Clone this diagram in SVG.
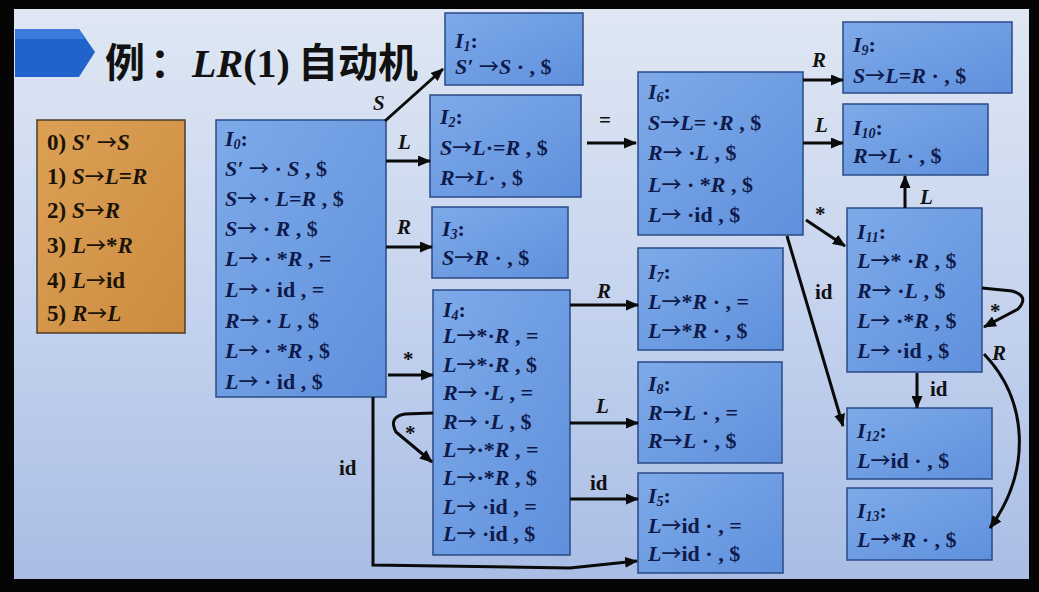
<svg xmlns="http://www.w3.org/2000/svg" width="1039" height="592" viewBox="0 0 1039 592">
<defs>
<linearGradient id="bgg" x1="0" y1="0" x2="0" y2="1">
<stop offset="0" stop-color="#dfe7f3"/>
<stop offset="0.5" stop-color="#c6d4ee"/>
<stop offset="1" stop-color="#a9bde5"/>
</linearGradient>
<linearGradient id="gb" x1="0" y1="0" x2="1" y2="1">
<stop offset="0" stop-color="#7eaae9"/>
<stop offset="1" stop-color="#5f90dc"/>
</linearGradient>
<linearGradient id="go" x1="0" y1="0" x2="1" y2="1">
<stop offset="0" stop-color="#dca055"/>
<stop offset="1" stop-color="#cc8c40"/>
</linearGradient>
<marker id="ah" markerUnits="userSpaceOnUse" markerWidth="13" markerHeight="11" refX="12" refY="5.5" orient="auto">
<path d="M0,0 L13,5.5 L0,11 z" fill="#0a0a0a"/>
</marker>
<style>
.node rect{fill:url(#gb);stroke:#2b4a86;stroke-width:1.5}
.t{font-family:"Liberation Serif",serif;font-weight:bold;font-size:22px;fill:#0e1a4a}
.r{font-size:23px;fill:#1a1408}
.i{font-style:italic}
.a{font-family:"Noto Sans CJK SC",sans-serif;font-weight:500;font-size:20px}
.sb{font-size:14px;font-style:italic}
.edge{fill:none;stroke:#0a0a0a;stroke-width:3;marker-end:url(#ah)}
.lbl{font-family:"Liberation Serif",serif;font-weight:bold;font-size:21px;fill:#111}
</style>
</defs>
<rect x="0" y="0" width="1039" height="592" fill="#050505"/>
<rect x="14" y="9" width="1015" height="570" fill="url(#bgg)"/>
<g id="title">
<polygon points="15,29 79,29 95,52 79,77 15,77" fill="#2163cc"/>
<polygon points="15,29 79,29 86,39 15,39" fill="#3b7ad8"/>
<text y="77" font-size="40" font-weight="bold" fill="#111"><tspan x="105" font-family="'Noto Sans CJK SC',sans-serif">例</tspan><tspan x="150" font-family="'Noto Sans CJK SC',sans-serif">：</tspan><tspan x="192" font-family="'Liberation Serif',serif" font-style="italic">LR</tspan><tspan font-family="'Liberation Serif',serif">(1)</tspan><tspan x="298" font-family="'Noto Sans CJK SC',sans-serif">自动机</tspan></text>
</g>
<g id="rules">
<rect x="37" y="120" width="148" height="213" fill="url(#go)" stroke="#4a3c28" stroke-width="1.5"/>
<text class="t r" x="47" y="150">0) <tspan class="i">S′</tspan> <tspan class="a">→</tspan><tspan class="i">S</tspan></text>
<text class="t r" x="47" y="184">1) <tspan class="i">S</tspan><tspan class="a">→</tspan><tspan class="i">L</tspan>=<tspan class="i">R</tspan></text>
<text class="t r" x="47" y="218">2) <tspan class="i">S</tspan><tspan class="a">→</tspan><tspan class="i">R</tspan></text>
<text class="t r" x="47" y="253">3) <tspan class="i">L</tspan><tspan class="a">→</tspan>*<tspan class="i">R</tspan></text>
<text class="t r" x="47" y="288">4) <tspan class="i">L</tspan><tspan class="a">→</tspan>id</text>
<text class="t r" x="47" y="321">5) <tspan class="i">R</tspan><tspan class="a">→</tspan><tspan class="i">L</tspan></text>
</g>
<g id="I0" class="node">
<rect x="216" y="120" width="170" height="277"/>
<text class="t" x="225" y="146"><tspan class="i">I</tspan><tspan class="sb" dy="3">0</tspan><tspan dy="-3">:</tspan></text>
<text class="t" x="225" y="176"><tspan class="i">S′</tspan> <tspan class="a">→</tspan> · <tspan class="i">S</tspan> , $</text>
<text class="t" x="225" y="206"><tspan class="i">S</tspan><tspan class="a">→</tspan> · <tspan class="i">L</tspan>=<tspan class="i">R</tspan> , $</text>
<text class="t" x="225" y="236"><tspan class="i">S</tspan><tspan class="a">→</tspan> · <tspan class="i">R</tspan> , $</text>
<text class="t" x="225" y="266"><tspan class="i">L</tspan><tspan class="a">→</tspan> · *<tspan class="i">R</tspan> , =</text>
<text class="t" x="225" y="297"><tspan class="i">L</tspan><tspan class="a">→</tspan> · id , =</text>
<text class="t" x="225" y="328"><tspan class="i">R</tspan><tspan class="a">→</tspan> · <tspan class="i">L</tspan> , $</text>
<text class="t" x="225" y="358"><tspan class="i">L</tspan><tspan class="a">→</tspan> · *<tspan class="i">R</tspan> , $</text>
<text class="t" x="225" y="389"><tspan class="i">L</tspan><tspan class="a">→</tspan> · id , $</text>
</g>
<g id="I1" class="node">
<rect x="445" y="13" width="138" height="72"/>
<text class="t" x="455" y="48"><tspan class="i">I</tspan><tspan class="sb" dy="3">1</tspan><tspan dy="-3">:</tspan></text>
<text class="t" x="455" y="74"><tspan class="i">S′</tspan> <tspan class="a">→</tspan><tspan class="i">S</tspan> · , $</text>
</g>
<g id="I2" class="node">
<rect x="430" y="95" width="151" height="102"/>
<text class="t" x="440" y="124"><tspan class="i">I</tspan><tspan class="sb" dy="3">2</tspan><tspan dy="-3">:</tspan></text>
<text class="t" x="440" y="155"><tspan class="i">S</tspan><tspan class="a">→</tspan><tspan class="i">L</tspan>·=<tspan class="i">R</tspan> , $</text>
<text class="t" x="440" y="185"><tspan class="i">R</tspan><tspan class="a">→</tspan><tspan class="i">L</tspan>· , $</text>
</g>
<g id="I3" class="node">
<rect x="432" y="207" width="136" height="71"/>
<text class="t" x="442" y="236"><tspan class="i">I</tspan><tspan class="sb" dy="3">3</tspan><tspan dy="-3">:</tspan></text>
<text class="t" x="442" y="265"><tspan class="i">S</tspan><tspan class="a">→</tspan><tspan class="i">R</tspan> · , $</text>
</g>
<g id="I4" class="node">
<rect x="433" y="290" width="137" height="265"/>
<text class="t" x="443" y="317"><tspan class="i">I</tspan><tspan class="sb" dy="3">4</tspan><tspan dy="-3">:</tspan></text>
<text class="t" x="443" y="343"><tspan class="i">L</tspan><tspan class="a">→</tspan>*·<tspan class="i">R</tspan> , =</text>
<text class="t" x="443" y="372"><tspan class="i">L</tspan><tspan class="a">→</tspan>*·<tspan class="i">R</tspan> , $</text>
<text class="t" x="443" y="400"><tspan class="i">R</tspan><tspan class="a">→</tspan> ·<tspan class="i">L</tspan> , =</text>
<text class="t" x="443" y="429"><tspan class="i">R</tspan><tspan class="a">→</tspan> ·<tspan class="i">L</tspan> , $</text>
<text class="t" x="443" y="457"><tspan class="i">L</tspan><tspan class="a">→</tspan>·*<tspan class="i">R</tspan> , =</text>
<text class="t" x="443" y="485"><tspan class="i">L</tspan><tspan class="a">→</tspan>·*<tspan class="i">R</tspan> , $</text>
<text class="t" x="443" y="514"><tspan class="i">L</tspan><tspan class="a">→</tspan> ·id , =</text>
<text class="t" x="443" y="541"><tspan class="i">L</tspan><tspan class="a">→</tspan> ·id , $</text>
</g>
<g id="I6" class="node">
<rect x="638" y="72" width="165" height="163"/>
<text class="t" x="648" y="99"><tspan class="i">I</tspan><tspan class="sb" dy="3">6</tspan><tspan dy="-3">:</tspan></text>
<text class="t" x="648" y="130"><tspan class="i">S</tspan><tspan class="a">→</tspan><tspan class="i">L</tspan>= ·<tspan class="i">R</tspan> , $</text>
<text class="t" x="648" y="160"><tspan class="i">R</tspan><tspan class="a">→</tspan> ·<tspan class="i">L</tspan> , $</text>
<text class="t" x="648" y="192"><tspan class="i">L</tspan><tspan class="a">→</tspan> · *<tspan class="i">R</tspan> , $</text>
<text class="t" x="648" y="222"><tspan class="i">L</tspan><tspan class="a">→</tspan> ·id , $</text>
</g>
<g id="I7" class="node">
<rect x="638" y="248" width="145" height="102"/>
<text class="t" x="648" y="279"><tspan class="i">I</tspan><tspan class="sb" dy="3">7</tspan><tspan dy="-3">:</tspan></text>
<text class="t" x="648" y="309"><tspan class="i">L</tspan><tspan class="a">→</tspan>*<tspan class="i">R</tspan> · , =</text>
<text class="t" x="648" y="338"><tspan class="i">L</tspan><tspan class="a">→</tspan>*<tspan class="i">R</tspan> · , $</text>
</g>
<g id="I8" class="node">
<rect x="638" y="362" width="144" height="101"/>
<text class="t" x="648" y="391"><tspan class="i">I</tspan><tspan class="sb" dy="3">8</tspan><tspan dy="-3">:</tspan></text>
<text class="t" x="648" y="420"><tspan class="i">R</tspan><tspan class="a">→</tspan><tspan class="i">L</tspan> · , =</text>
<text class="t" x="648" y="448"><tspan class="i">R</tspan><tspan class="a">→</tspan><tspan class="i">L</tspan> · , $</text>
</g>
<g id="I5" class="node">
<rect x="638" y="473" width="145" height="100"/>
<text class="t" x="648" y="503"><tspan class="i">I</tspan><tspan class="sb" dy="3">5</tspan><tspan dy="-3">:</tspan></text>
<text class="t" x="648" y="533"><tspan class="i">L</tspan><tspan class="a">→</tspan>id · , =</text>
<text class="t" x="648" y="561"><tspan class="i">L</tspan><tspan class="a">→</tspan>id · , $</text>
</g>
<g id="I9" class="node">
<rect x="843" y="22" width="169" height="71"/>
<text class="t" x="853" y="52"><tspan class="i">I</tspan><tspan class="sb" dy="3">9</tspan><tspan dy="-3">:</tspan></text>
<text class="t" x="853" y="83"><tspan class="i">S</tspan><tspan class="a">→</tspan><tspan class="i">L</tspan>=<tspan class="i">R</tspan> · , $</text>
</g>
<g id="I10" class="node">
<rect x="843" y="104" width="145" height="71"/>
<text class="t" x="853" y="135"><tspan class="i">I</tspan><tspan class="sb" dy="3">10</tspan><tspan dy="-3">:</tspan></text>
<text class="t" x="853" y="163"><tspan class="i">R</tspan><tspan class="a">→</tspan><tspan class="i">L</tspan> · , $</text>
</g>
<g id="I11" class="node">
<rect x="847" y="208" width="135" height="164"/>
<text class="t" x="857" y="239"><tspan class="i">I</tspan><tspan class="sb" dy="3">11</tspan><tspan dy="-3">:</tspan></text>
<text class="t" x="857" y="268"><tspan class="i">L</tspan><tspan class="a">→</tspan>* ·<tspan class="i">R</tspan> , $</text>
<text class="t" x="857" y="298"><tspan class="i">R</tspan><tspan class="a">→</tspan> ·<tspan class="i">L</tspan> , $</text>
<text class="t" x="857" y="328"><tspan class="i">L</tspan><tspan class="a">→</tspan> ·*<tspan class="i">R</tspan> , $</text>
<text class="t" x="857" y="358"><tspan class="i">L</tspan><tspan class="a">→</tspan> ·id , $</text>
</g>
<g id="I12" class="node">
<rect x="847" y="408" width="145" height="71"/>
<text class="t" x="857" y="438"><tspan class="i">I</tspan><tspan class="sb" dy="3">12</tspan><tspan dy="-3">:</tspan></text>
<text class="t" x="857" y="468"><tspan class="i">L</tspan><tspan class="a">→</tspan>id · , $</text>
</g>
<g id="I13" class="node">
<rect x="847" y="488" width="145" height="72"/>
<text class="t" x="857" y="518"><tspan class="i">I</tspan><tspan class="sb" dy="3">13</tspan><tspan dy="-3">:</tspan></text>
<text class="t" x="857" y="547"><tspan class="i">L</tspan><tspan class="a">→</tspan>*<tspan class="i">R</tspan> · , $</text>
</g>
<g id="connectors">
<path class="edge" d="M385,121 L443,69"/>
<path class="edge" d="M386,161 L430,161"/>
<path class="edge" d="M386,247 L432,247"/>
<path class="edge" d="M388,375 L433,375"/>
<path class="edge" d="M373,397 L373,565 L570,568 L637,561"/>
<path class="edge" d="M433,413 L405,414 Q388,417 396,432 L432,462"/>
<path class="edge" d="M570,305 L638,305"/>
<path class="edge" d="M570,423 L638,423"/>
<path class="edge" d="M570,499 L638,499"/>
<path class="edge" d="M587,143 L636,143"/>
<path class="edge" d="M803,80 L843,80"/>
<path class="edge" d="M803,143 L843,143"/>
<path class="edge" d="M806,220 L845,246"/>
<path class="edge" d="M787,236 L843,426"/>
<path class="edge" d="M905,208 L905,176"/>
<path class="edge" d="M982,288 L1012,291 Q1030,296 1018,309 L984,327"/>
<path class="edge" d="M917,373 L917,408"/>
<path class="edge" d="M984,354 C1028,400 1032,470 990,528"/>
</g>
<g id="labels">
<text class="lbl i" x="373" y="110">S</text>
<text class="lbl i" x="398" y="149">L</text>
<text class="lbl i" x="397" y="234">R</text>
<text class="lbl" x="403" y="366">*</text>
<text class="lbl" x="339" y="475">id</text>
<text class="lbl" x="405" y="440">*</text>
<text class="lbl i" x="597" y="298">R</text>
<text class="lbl i" x="596" y="413">L</text>
<text class="lbl" x="590" y="490">id</text>
<text class="lbl" x="599" y="127">=</text>
<text class="lbl i" x="812" y="67">R</text>
<text class="lbl i" x="815" y="132">L</text>
<text class="lbl" x="815" y="221">*</text>
<text class="lbl" x="815" y="299">id</text>
<text class="lbl i" x="920" y="204">L</text>
<text class="lbl" x="990" y="318">*</text>
<text class="lbl" x="930" y="396">id</text>
<text class="lbl i" x="992" y="360">R</text>
</g>
</svg>
